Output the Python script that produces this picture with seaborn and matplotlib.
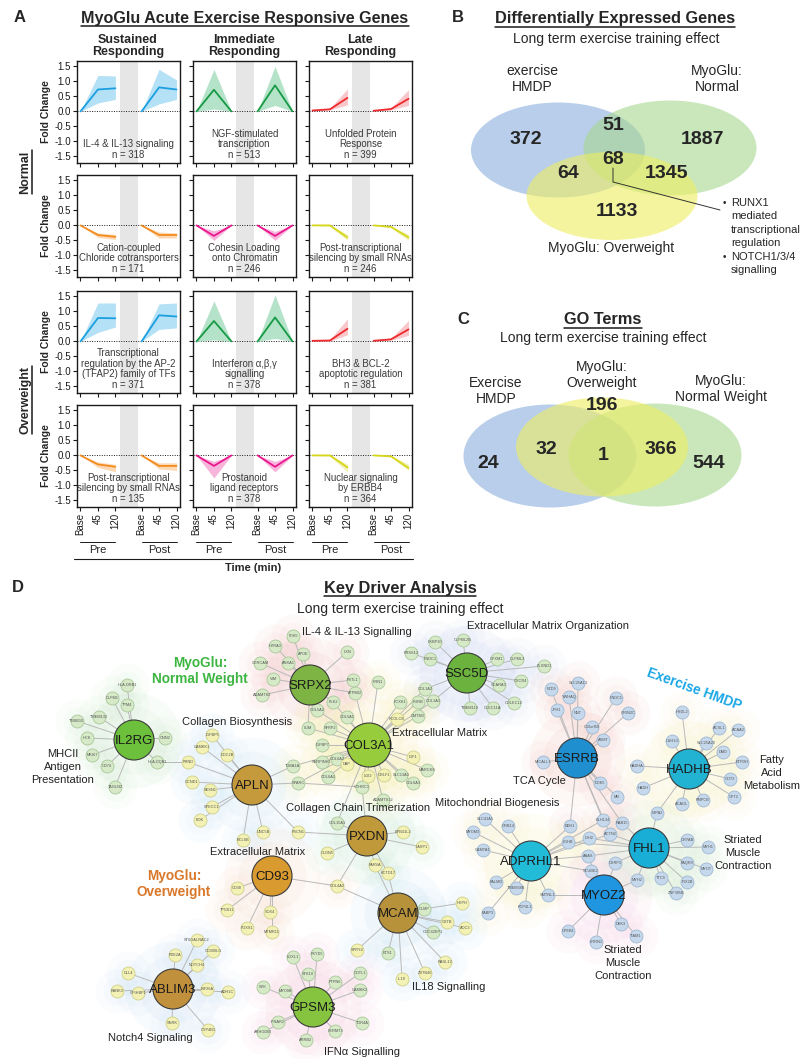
import numpy as np
import pandas as pd
import matplotlib
matplotlib.use('Agg')
import matplotlib.pyplot as plt
import seaborn as sns
from matplotlib.patches import Ellipse
from matplotlib.lines import Line2D

W, H = 801, 1059

sns.set_theme(style='ticks')
plt.rcParams['font.family'] = ['Liberation Sans', 'DejaVu Sans']
plt.rcParams['axes.unicode_minus'] = False

# ==========================================
# DATA — panel A (fold change, Pre base/45/120 then Post base/45/120)
# ==========================================
time_labels = ['Base', '45', '120']
time_pos = [0, 1, 2, 3.5, 4.5, 5.5]
col_titles = ['Sustained\nResponding', 'Immediate\nResponding', 'Late\nResponding']
row_groups = ['Normal', 'Overweight']

normal_up_mean = [[0, 0.73, 0.77, 0, 0.80, 0.73],
                  [0, 0.72, 0, 0, 0.87, 0],
                  [0.03, 0.07, 0.45, 0.02, 0.08, 0.42]]
normal_up_lo = [[0, 0.28, 0.40, 0, 0.25, 0.40],
                [0, 0.08, 0, 0, 0.20, 0],
                [0.03, 0.05, 0.22, 0.02, 0.05, 0.20]]
normal_up_hi = [[0, 1.20, 1.18, 0, 1.40, 1.05],
                [0, 1.40, 0, 0, 1.50, 0],
                [0.03, 0.10, 0.75, 0.02, 0.12, 0.72]]

normal_down_mean = [[0, -0.32, -0.38, 0, -0.32, -0.32],
                    [0, -0.35, 0, 0, -0.35, 0],
                    [0, 0, -0.40, 0, -0.05, -0.40]]
normal_down_lo = [[0, -0.40, -0.47, 0, -0.42, -0.42],
                  [0, -0.50, 0, 0, -0.50, 0],
                  [0, -0.03, -0.50, 0, -0.08, -0.50]]
normal_down_hi = [[0, -0.25, -0.30, 0, -0.22, -0.25],
                  [0, -0.18, 0, 0, -0.20, 0],
                  [0, 0.02, -0.30, 0, -0.02, -0.30]]

over_up_mean = [[0, 0.78, 0.77, 0, 0.87, 0.83],
                [0, 0.68, 0, 0, 0.80, 0],
                [0.02, 0.03, 0.42, 0.02, 0.07, 0.40]]
over_up_lo = [[0, 0.30, 0.48, 0, 0.40, 0.45],
              [0, 0.05, 0, 0, 0.10, 0],
              [0.02, 0.01, 0.22, 0.02, 0.04, 0.20]]
over_up_hi = [[0, 1.28, 1.28, 0, 1.25, 1.28],
              [0, 1.35, 0, 0, 1.55, 0],
              [0.02, 0.06, 0.75, 0.02, 0.10, 0.70]]

over_down_mean = [[0, -0.30, -0.38, 0, -0.35, -0.35],
                  [0, -0.35, 0, 0, -0.38, 0],
                  [0, 0, -0.40, 0, -0.03, -0.42]]
over_down_lo = [[0, -0.40, -0.55, 0, -0.45, -0.50],
                [0, -0.75, 0, 0, -0.55, 0],
                [0, -0.03, -0.55, 0, -0.06, -0.50]]
over_down_hi = [[0, -0.22, -0.30, 0, -0.25, -0.25],
                [0, -0.20, 0, 0, -0.20, 0],
                [0, 0.02, -0.30, 0, 0, -0.30]]

normal_up_text = ['IL-4 & IL-13 signaling\nn = 318',
                  'NGF-stimulated\ntranscription\nn = 513',
                  'Unfolded Protein\nResponse\nn = 399']
normal_down_text = ['Cation-coupled\nChloride cotransporters\nn = 171',
                    'Cohesin Loading\nonto Chromatin\nn = 246',
                    'Post-transcriptional\nsilencing by small RNAs\nn = 246']
over_up_text = ['Transcriptional\nregulation by the AP-2\n(TFAP2) family of TFs\nn = 371',
                'Interferon α,β,γ\nsignalling\nn = 378',
                'BH3 & BCL-2\napoptotic regulation\nn = 381']
over_down_text = ['Post-transcriptional\nsilencing by small RNAs\nn = 135',
                  'Prostanoid\nligand receptors\nn = 378',
                  'Nuclear signaling\nby ERBB4\nn = 364']

up_line = ['#1c9fe0', '#179a45', '#ee2a2e']
up_band = ['#a8dcf5', '#a8dec0', '#f8bcc0']
down_line = ['#f28c1e', '#e8168c', '#d6d61a']
down_band = ['#fcd2a8', '#f7a8d6', '#eef0a8']

# ==========================================
# DATA — panels B and C (Venn counts)
# ==========================================
venn_b_sets = ['exercise\nHMDP', 'MyoGlu:\nNormal', 'MyoGlu: Overweight']
venn_b_counts = [372, 51, 1887, 68, 64, 1345, 1133]
venn_b_note = ['RUNX1', 'mediated', 'transcriptional', 'regulation', 'NOTCH1/3/4', 'signalling']
venn_b_bullet = [True, False, False, False, True, False]

venn_c_sets = ['Exercise\nHMDP', 'MyoGlu:\nOverweight', 'MyoGlu:\nNormal Weight']
venn_c_counts = [24, 32, 1, 366, 544, 196]

# ==========================================
# DATA — panel D (key driver network)
# ==========================================
hub_names = ['SRPX2', 'SSC5D', 'IL2RG', 'COL3A1', 'APLN', 'PXDN', 'CD93', 'MCAM',
             'ABLIM3', 'GPSM3', 'ESRRB', 'HADHB', 'ADPRHL1', 'FHL1', 'MYOZ2']
hub_x = [310, 467, 134, 369, 252, 367, 272, 398, 173, 313, 577, 689, 531, 649, 604]
hub_y = [685, 673, 740, 745, 785, 836, 876, 913, 989, 1007, 758, 769, 861, 848, 895]
hub_group = ['normal', 'normal', 'normal', 'normal', 'over', 'over', 'over', 'over',
             'over', 'normal', 'hmdp', 'hmdp', 'hmdp', 'hmdp', 'hmdp']
hub_colors = ['#7db443', '#6cb23e', '#6cc03c', '#97cc3c', '#c49a3c', '#c09a3a', '#d99a30',
              '#b8923a', '#c0903c', '#86c440', '#1f8fcf', '#22b2d2', '#22bcd8', '#18aed6', '#2196e0']
halo_colors = ['#f4b8b8', '#c0cdf0', '#c4e6c4', '#f6ec9c', '#bfe0f4', '#bfe8cf', '#f6d2bc',
               '#b8dcf4', '#c0dcf4', '#f6c6da', '#f2bcb4', '#f6eeb4', '#f6eeb4', '#cceac8', '#f6c8e0']

srpx2_sat = [('ITIH5', 293, 636), ('HTRA3', 275, 646), ('APOE', 303, 654), ('ANXA1', 288, 663),
             ('CERCAM', 260, 663), ('LXN', 347, 652), ('VIM', 273, 679), ('FSTL1', 353, 680),
             ('ADAMTS2', 262, 695), ('ATP8B2', 355, 693), ('PLK2', 333, 702)]
ssc5d_sat = [('FKBP10', 435, 642), ('OLFML2B', 463, 640), ('PRSS12', 411, 653), ('FNDC1', 430, 659),
             ('CPXM1', 497, 659), ('OLFML3', 517, 659), ('PLXND1', 544, 666), ('CXCR4', 521, 681),
             ('SCARA3', 499, 685), ('COLEC12', 514, 703), ('CLEC11A', 493, 708), ('TMEM119', 470, 708),
             ('COL1A2', 425, 689), ('COL1A1', 433, 701)]
il2rg_sat = [('HLA-DRB1', 127, 685), ('OLFM1', 112, 698), ('TPM4', 127, 705), ('TMEM132', 99, 717),
             ('TMSB10', 77, 721), ('HCK', 87, 738), ('CNN2', 165, 738), ('MKI67', 92, 755),
             ('CD74', 107, 766), ('HLA-DQB1', 157, 762), ('TAGLN2', 115, 787)]
col3a1_sat = [('FRN1', 378, 682), ('FCXK1', 400, 702), ('PURB', 418, 702), ('CMTM3', 418, 716),
              ('PCOLCE', 397, 719), ('COL5A2', 317, 710), ('COL5A1', 347, 717), ('SFRP2', 330, 728),
              ('LUM', 308, 728), ('IGFBP7', 322, 745), ('IGF1', 413, 757), ('SERPINH1', 322, 762),
              ('COL6A2', 337, 759), ('DAP', 347, 764), ('COL6A1', 328, 777), ('LGI2', 368, 776),
              ('CRLF1', 384, 775), ('CTHRC1', 362, 787), ('TUBA1A', 293, 766), ('SPARC', 298, 783),
              ('ADAMTS12', 383, 800), ('SLC13A3', 401, 775), ('MARCKS', 427, 770), ('COL6A3', 413, 783)]
apln_sat = [('IGFBP5', 212, 735), ('CAMKK1', 202, 747), ('DOC2B', 227, 755), ('PRND', 188, 762),
            ('CCND1', 192, 782), ('SESN1', 210, 790), ('SPECC1', 212, 807), ('BOK', 200, 820),
            ('UNC5B', 263, 832), ('BCL6B', 243, 840), ('FSCN1', 298, 832)]
pxdn_sat = [('COL15A1', 337, 823), ('EPB41L2', 403, 832), ('LASP1', 422, 847), ('CLDN5', 327, 853),
            ('PARVA', 375, 865), ('KCTD17', 388, 873)]
cd93_sat = [('CD38', 237, 888), ('TP53I11', 227, 910), ('SOX4', 270, 912), ('FOXS1', 247, 928),
            ('MTMR11', 272, 932), ('COL4A2', 337, 886)]
mcam_sat = [('CLMP', 424, 909), ('HEPH', 462, 903), ('CSTB', 447, 922), ('AOC3', 465, 928),
            ('CDC42EP1', 433, 932), ('SPRY4', 357, 950), ('ETS1', 388, 953), ('RASL12', 445, 962),
            ('ZBTB46', 425, 973), ('IL18', 402, 979)]
ablim3_sat = [('ST6GALNAC2', 197, 940), ('PDE2A', 175, 955), ('CD300LG', 213, 951), ('NOTCH4', 197, 965),
              ('DLL4', 128, 973), ('KANK3', 117, 991), ('GPIHBP1', 138, 993), ('KIF26A', 207, 989),
              ('ADH1C', 228, 992), ('SNRK', 172, 1023), ('CYP4B1', 208, 1030)]
gpsm3_sat = [('LOXL1', 293, 957), ('FXYD5', 317, 954), ('STK10', 308, 974), ('PTPN6', 335, 982),
             ('COTL1', 360, 973), ('CAMKK2', 360, 990), ('SYK', 263, 987), ('MYO9B', 285, 991),
             ('TOR4A', 362, 1023), ('IFNAR2', 278, 1022), ('ARHGDIB', 263, 1032), ('FERMT3', 335, 1031),
             ('ARRB2', 306, 1040)]
esrrb_sat = [('FZD9', 551, 689), ('SLC25A13', 578, 683), ('YWHAQ', 569, 697), ('FNDC5', 616, 698),
             ('JPH1', 557, 710), ('NNT', 578, 713), ('GRIN2C', 628, 713), ('C10orf58', 592, 727),
             ('ASMT', 603, 740), ('MICALL1', 543, 762), ('DOK5', 600, 783), ('MB', 617, 797),
             ('KLHL34', 603, 820), ('RAB15', 622, 823), ('BDH1', 570, 826), ('ACTN2', 610, 834)]
hadhb_sat = [('HSDL2', 682, 712), ('USH1G', 672, 741), ('ACSL1', 719, 728), ('ACAA2', 738, 730),
             ('SLC25A20', 706, 743), ('DMD', 723, 752), ('ETFDH', 742, 762), ('HADHA', 637, 766),
             ('GOT2', 730, 779), ('HADH', 643, 788), ('CPT2', 734, 797), ('ACADL', 682, 804),
             ('PMPCB', 703, 800), ('IMPA2', 657, 813)]
adprhl1_sat = [('SLC41A1', 485, 819), ('GRB14', 508, 826), ('MYOM3', 473, 832), ('CAMTA1', 483, 850),
               ('LDHB', 568, 842), ('IDH2', 589, 838), ('AAAS', 588, 856), ('PALMD', 496, 882),
               ('TMEM38B', 516, 888), ('SMTNL1', 548, 895), ('PCP4L1', 525, 907), ('FABP3', 488, 913)]
fhl1_sat = [('CSRP3', 615, 863), ('MYH2', 637, 880), ('TTC9', 661, 878), ('CRYAB', 687, 840),
            ('MYH1', 708, 847), ('PAQR9', 687, 863), ('MYOT', 706, 869), ('IRX2B', 687, 882),
            ('ZNF385B', 676, 893)]
myoz2_sat = [('SCUBE2', 591, 871), ('DKK3', 621, 924), ('TIAM1', 636, 936), ('CPEB1', 568, 931),
             ('LRRN1', 596, 942)]

cross_edges = [('HLA-DQB1', 'PRND'), ('TUBA1A', 'APLN'), ('SPARC', 'APLN'), ('LUM', 'SRPX2'),
               ('COL5A2', 'SRPX2'), ('ATP8B2', 'COL3A1'), ('PLK2', 'COL3A1'), ('COL1A2', 'COL3A1'),
               ('COL1A1', 'COL3A1'), ('FSCN1', 'PXDN'), ('CTHRC1', 'PXDN'), ('COL15A1', 'COL3A1'),
               ('COL4A2', 'PXDN'), ('COL4A2', 'MCAM'), ('PARVA', 'MCAM'), ('KCTD17', 'MCAM'),
               ('BDH1', 'ADPRHL1'), ('ACTN2', 'ADPRHL1'), ('ACTN2', 'FHL1'), ('KLHL34', 'ADPRHL1'),
               ('RAB15', 'FHL1'), ('IMPA2', 'FHL1'), ('LDHB', 'FHL1'), ('AAAS', 'FHL1'),
               ('AAAS', 'MYOZ2'), ('SCUBE2', 'ADPRHL1'), ('CSRP3', 'MYOZ2'), ('MYH2', 'MYOZ2'),
               ('SMTNL1', 'MYOZ2'), ('IDH2', 'FHL1'), ('SPARC', 'CTHRC1')]
yellow_nodes = ['PCOLCE', 'IGF1', 'CRLF1', 'LGI2', 'DAP']
green_nodes = ['COL15A1', 'CLMP', 'CDC42EP1', 'ETS1']

d_labels = ['IL-4 & IL-13 Signalling', 'Extracellular Matrix Organization', 'Collagen Biosynthesis',
            'MHCII\nAntigen\nPresentation', 'Extracellular Matrix', 'Collagen Chain Trimerization',
            'Mitochondrial Biogenesis', 'TCA Cycle', 'Fatty\nAcid\nMetabolism',
            'Striated\nMuscle\nContraction', 'Striated\nMuscle\nContraction', 'IL18 Signalling',
            'Extracellular Matrix', 'Notch4 Signaling', 'IFNα Signalling']
d_label_x = [357, 548, 237, 63, 440, 358, 497, 539, 772, 743, 623, 449, 258, 150, 362]
d_label_y = [632, 626, 722, 767, 733, 808, 803, 781, 773, 853, 963, 987, 852, 1038, 1052]

# ==========================================
# FIGURE
# ==========================================
fig = plt.figure(figsize=(W / 100, H / 100), dpi=100)
ax0 = fig.add_axes([0, 0, 1, 1])
ax0.axis('off')


def px(l, t, w, h):
    return [l / W, 1 - (t + h) / H, w / W, h / H]


def stacked(x, y, txt, step, **kw):
    # multi-line label drawn one line at a time, centred on (x, y)
    lines = txt.split('\n')
    y0 = y - step * (len(lines) - 1) / 2
    for i, ln in enumerate(lines):
        ax0.text(x, y0 + i * step, ln, ha='center', va='center', **kw)


underline_me = []

# ---------- panel A ----------
col_left = [77, 193, 309]
row_top = [61, 175, 291, 405]
panel_w, panel_h = 103, 102

rows_mean = [normal_up_mean, normal_down_mean, over_up_mean, over_down_mean]
rows_lo = [normal_up_lo, normal_down_lo, over_up_lo, over_down_lo]
rows_hi = [normal_up_hi, normal_down_hi, over_up_hi, over_down_hi]
rows_text = [normal_up_text, normal_down_text, over_up_text, over_down_text]

for r in range(4):
    for c in range(3):
        ax = fig.add_axes(px(col_left[c], row_top[r], panel_w, panel_h))
        ax.set_facecolor('white')
        ax.axvspan(2.25, 3.3, color='#e6e6e6', lw=0, zorder=0)
        ax.axhline(0, color='k', ls=(0, (1, 1.5)), lw=0.7, zorder=1)
        lc = up_line[c] if r % 2 == 0 else down_line[c]
        bc = up_band[c] if r % 2 == 0 else down_band[c]
        m, lo, hi = rows_mean[r][c], rows_lo[r][c], rows_hi[r][c]
        for a, b in ((0, 3), (3, 6)):
            xs = time_pos[a:b]
            ax.fill_between(xs, lo[a:b], hi[a:b], color=bc, alpha=0.85, lw=0, zorder=2)
            sns.lineplot(x=xs, y=m[a:b], color=lc, lw=1.3, ax=ax, zorder=3)
        ax.text(0.5, 0.025, rows_text[r][c], transform=ax.transAxes, ha='center', va='bottom',
                fontsize=6.9, color='#3a3a3a', linespacing=1.12, zorder=4)
        ax.set_xlim(-0.2, 5.7)
        ax.set_ylim(-1.72, 1.68)
        ax.set_yticks([1.5, 1.0, 0.5, 0.0, -0.5, -1.0, -1.5])
        ax.set_xticks(time_pos)
        ax.tick_params(direction='out', length=3, width=0.8, labelsize=7, pad=1.5, colors='k')
        for sp in ax.spines.values():
            sp.set_color('k')
            sp.set_linewidth(1.0)
        ax.set_xlabel('')
        if c == 0:
            ax.set_yticklabels(['1.5', '1.0', '0.5', '0.0', '-0.5', '-1.0', '-1.5'])
            ax.set_ylabel('Fold Change', fontsize=7.5, fontweight='bold', labelpad=2)
        else:
            ax.set_yticklabels([])
            ax.set_ylabel('')
        if r == 3:
            ax.set_xticklabels(time_labels * 2, rotation=90)
            trans = ax.get_xaxis_transform()
            for (x0, x1), nm in zip(((0, 2), (3.5, 5.5)), ('Pre', 'Post')):
                ax.plot([x0, x1], [-0.345, -0.345], transform=trans, clip_on=False, color='k', lw=0.7)
                ax.text((x0 + x1) / 2, -0.42, nm, transform=trans, ha='center', va='center', fontsize=8)
        else:
            ax.set_xticklabels([])

ax0.plot([74, 413], [559, 559], color='k', lw=0.8)
ax0.text(253, 568, 'Time (min)', ha='center', va='center', fontsize=8, fontweight='bold')
ax0.text(20, 18, 'A', ha='center', va='center', fontsize=12, fontweight='bold')
underline_me.append(ax0.text(245, 18, 'MyoGlu Acute Exercise Responsive Genes', ha='center',
                             va='center', fontsize=11.6, fontweight='bold'))
for cx, t in zip([128, 244, 360], col_titles):
    ax0.text(cx, 46, t, ha='center', va='center', fontsize=9, fontweight='bold', linespacing=1.02)
for cy, t in zip([172, 400], row_groups):
    underline_me.append(ax0.text(25, cy, t, ha='center', va='center', rotation=90,
                                 fontsize=9, fontweight='bold'))

# ---------- panel B ----------
ax0.text(458, 17, 'B', ha='center', va='center', fontsize=12, fontweight='bold')
underline_me.append(ax0.text(615, 19, 'Differentially Expressed Genes', ha='center', va='center',
                             fontsize=11.8, fontweight='bold'))
ax0.text(616, 39, 'Long term exercise training effect', ha='center', va='center', fontsize=10)
for (cx, cy, w, h), fc in zip([(558, 150, 174, 95), (670, 148, 173, 95), (612, 196, 171, 88)],
                              ['#8aaedc', '#a8d890', '#eeee60']):
    ax0.add_patch(Ellipse((cx, cy), w, h, facecolor=fc, edgecolor='none', alpha=0.6, zorder=1))
for (x, y), v in zip([(526, 140), (613, 125), (703, 140), (613, 159), (568, 173), (666, 173), (617, 212)],
                     venn_b_counts):
    ax0.text(x, y, str(v), ha='center', va='center', fontsize=14, fontweight='bold', zorder=3)
for (x, y), t in zip([(532, 79), (717, 79), (611, 248)], venn_b_sets):
    ax0.text(x, y, t, ha='center', va='center', fontsize=10, linespacing=1.2, zorder=3)
ax0.plot([613, 613, 720], [168, 182, 210], color='#333333', lw=0.7, zorder=3)
for i, (t, bul) in enumerate(zip(venn_b_note, venn_b_bullet)):
    yy = 203 + i * 13.4
    ax0.text(731, yy, t, ha='left', va='center', fontsize=8)
    if bul:
        ax0.text(726, yy, '•', ha='right', va='center', fontsize=7)

# ---------- panel C ----------
ax0.text(463, 320, 'C', ha='center', va='center', fontsize=12, fontweight='bold')
underline_me.append(ax0.text(603, 320, 'GO Terms', ha='center', va='center', fontsize=11.8,
                             fontweight='bold'))
ax0.text(603, 338, 'Long term exercise training effect', ha='center', va='center', fontsize=10)
for (cx, cy, w, h), fc in zip([(550, 456, 173, 103), (655, 455, 173, 103), (602, 447, 172, 99)],
                              ['#8aaedc', '#a8d890', '#eeee60']):
    ax0.add_patch(Ellipse((cx, cy), w, h, facecolor=fc, edgecolor='none', alpha=0.6, zorder=1))
for (x, y), v in zip([(488, 463), (546, 449), (603, 456), (661, 449), (709, 463), (602, 405)],
                     venn_c_counts):
    ax0.text(x, y, str(v), ha='center', va='center', fontsize=14, fontweight='bold', zorder=3)
for (x, y), t in zip([(496, 391), (602, 375), (721, 389)], venn_c_sets):
    ax0.text(x, y, t, ha='center', va='center', fontsize=10, linespacing=1.2, zorder=3)

# ---------- panel D ----------
ax0.text(18, 588, 'D', ha='center', va='center', fontsize=12, fontweight='bold')
underline_me.append(ax0.text(400, 588, 'Key Driver Analysis', ha='center', va='center',
                             fontsize=11.8, fontweight='bold'))
ax0.text(400, 609, 'Long term exercise training effect', ha='center', va='center', fontsize=10)

sat_lists = [srpx2_sat, ssc5d_sat, il2rg_sat, col3a1_sat, apln_sat, pxdn_sat, cd93_sat, mcam_sat,
             ablim3_sat, gpsm3_sat, esrrb_sat, hadhb_sat, adprhl1_sat, fhl1_sat, myoz2_sat]
rows = []
for hn, grp, sats in zip(hub_names, hub_group, sat_lists):
    for nm, x, y in sats:
        g = grp
        if nm in yellow_nodes:
            g = 'over'
        if nm in green_nodes:
            g = 'normal'
        rows.append({'name': nm, 'x': x, 'y': y, 'hub': hn, 'grp': g})
sat_df = pd.DataFrame(rows)
hub_df = pd.DataFrame({'name': hub_names, 'x': hub_x, 'y': hub_y, 'grp': hub_group})
pos = {**dict(zip(sat_df['name'], zip(sat_df['x'], sat_df['y']))),
       **dict(zip(hub_names, zip(hub_x, hub_y)))}

# soft background clouds around each module
for hn, hx, hy, hc in zip(hub_names, hub_x, hub_y, halo_colors):
    sub = sat_df[sat_df['hub'] == hn]
    for rad, al in ((48, 0.11), (34, 0.13)):
        ax0.scatter([hx], [hy], s=(2 * rad * 0.72) ** 2, color=hc, alpha=al, lw=0, zorder=0.5)
    for rad, al in ((22, 0.08), (14, 0.08)):
        ax0.scatter(sub['x'], sub['y'], s=(2 * rad * 0.72) ** 2, color=hc, alpha=al, lw=0, zorder=0.5)

# edges
for _, s in sat_df.iterrows():
    hx, hy = pos[s['hub']]
    ax0.plot([hx, s['x']], [hy, s['y']], color='#b9b9b9', lw=0.7, zorder=1)
for a, b in cross_edges:
    ax0.plot([pos[a][0], pos[b][0]], [pos[a][1], pos[b][1]], color='#b9b9b9', lw=0.7, zorder=1)

# satellite nodes
sat_fill = {'normal': '#d6eac8', 'over': '#f3f2b4', 'hmdp': '#c6d9ec'}
sat_edge = {'normal': '#a9c79a', 'over': '#cfcf8a', 'hmdp': '#9fb8d2'}
for g in ['normal', 'over', 'hmdp']:
    sub = sat_df[sat_df['grp'] == g]
    sns.scatterplot(data=sub, x='x', y='y', s=(13 * 0.72) ** 2, color=sat_fill[g],
                    edgecolor=sat_edge[g], linewidth=0.6, legend=False, ax=ax0, zorder=3)
for _, s in sat_df.iterrows():
    ax0.text(s['x'], s['y'], s['name'], ha='center', va='center', fontsize=2.8, color='#555555', zorder=4)

# hub nodes
hub_sizes = dict(zip(hub_names, [(40 * 0.72) ** 2] * len(hub_names)))
hub_sizes['COL3A1'] = (44 * 0.72) ** 2
sns.scatterplot(data=hub_df, x='x', y='y', hue='name', palette=dict(zip(hub_names, hub_colors)),
                size='name', sizes=hub_sizes, edgecolor='#3a3a3a', linewidth=0.8, legend=False,
                ax=ax0, zorder=5)
for nm, x, y in zip(hub_names, hub_x, hub_y):
    ax0.text(x, y + 1, nm, ha='center', va='center', fontsize=9.5, color='#1a1a1a', zorder=6)

for t, x, y in zip(d_labels, d_label_x, d_label_y):
    stacked(x, y, t, 13, fontsize=8, color='#222222', zorder=6)
ax0.text(200, 671, 'MyoGlu:\nNormal Weight', ha='center', va='center', fontsize=9.8,
         fontweight='bold', color='#3db541', linespacing=1.1, zorder=6)
ax0.text(174, 884, 'MyoGlu:\nOverweight', ha='center', va='center', fontsize=9.8,
         fontweight='bold', color='#d9782a', linespacing=1.1, zorder=6)
ax0.text(694, 689, 'Exercise HMDP', ha='center', va='center', fontsize=9.8, fontweight='bold',
         color='#1aa6e6', rotation=-20, zorder=6)

ax0.set_xlim(0, W)
ax0.set_ylim(H, 0)
ax0.set_xlabel('')
ax0.set_ylabel('')

# underlines for headings
fig.canvas.draw()
rend = fig.canvas.get_renderer()
for t in underline_me:
    bb = t.get_window_extent(rend)
    if t.get_rotation() == 90:
        fig.add_artist(Line2D([(bb.x1 + 1) / W] * 2, [bb.y0 / H, bb.y1 / H],
                              transform=fig.transFigure, color='k', lw=1.1))
    else:
        fig.add_artist(Line2D([bb.x0 / W, bb.x1 / W], [(bb.y0 - 0.5) / H] * 2,
                              transform=fig.transFigure, color='k', lw=1.1))

fig.savefig('out.png', dpi=100)
